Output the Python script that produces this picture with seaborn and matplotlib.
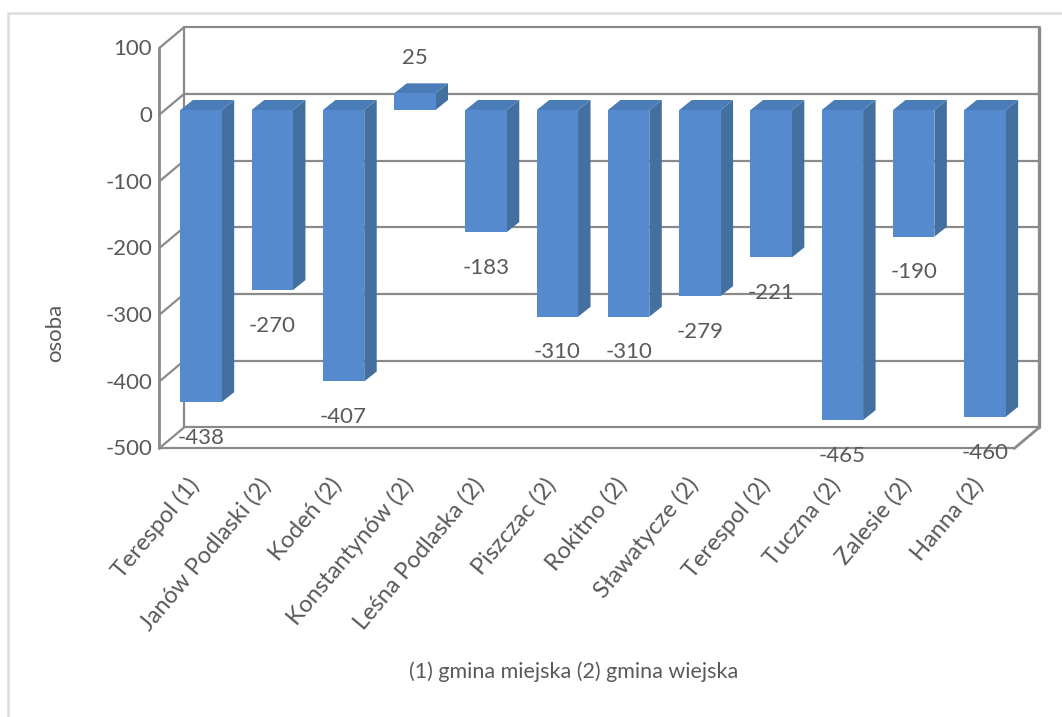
import pandas as pd
import seaborn as sns
import matplotlib.pyplot as plt
from matplotlib.lines import Line2D
from matplotlib.patches import Polygon
from matplotlib.transforms import Affine2D, IdentityTransform

# Values
gminy = ['Terespol (1)', 'Janów Podlaski (2)', 'Kodeń (2)', 'Konstantynów (2)',
         'Leśna Podlaska (2)', 'Piszczac (2)', 'Rokitno (2)', 'Sławatycze (2)',
         'Terespol (2)', 'Tuczna (2)', 'Zalesie (2)', 'Hanna (2)']
zmiana = [-438, -270, -407, 25, -183, -310, -310, -279, -221, -465, -190, -460]
y_ticks = [100, 0, -100, -200, -300, -400, -500]

W, H = 1062, 717
GREY = '#8a8a8a'
TEXT = '#595959'

sns.set_theme(style="white")
plt.rcParams['font.family'] = ['Lato', 'DejaVu Sans']
plt.rcParams['axes.unicode_minus'] = False

df = pd.DataFrame({'gmina': gminy, 'zmiana': zmiana})

fig = plt.figure(figsize=(W / 100, H / 100), dpi=100)
ax = fig.add_axes([165.4 / W, 1 - 443.5 / H, (1020.6 - 165.4) / W, 400.2 / H])
sns.barplot(data=df, x='gmina', y='zmiana', color='#558BCE', saturation=1,
            width=0.58, ax=ax, zorder=3, linewidth=0)
ax.set_xlim(-0.5, len(gminy) - 0.5)
ax.set_ylim(-500, 100)
sns.despine(ax=ax, left=True, bottom=True)
ax.patch.set_visible(False)


# data point -> screen pixels, shifted in depth
def to_px(x, y, dx=0, dy=0):
    px, py = ax.transData.transform((x, y))
    return px + dx, py + dy


def wall_line(p1, p2, lw=1.6):
    ax.add_line(Line2D([p1[0], p2[0]], [p1[1], p2[1]], color=GREY, lw=lw,
                       transform=IdentityTransform(), clip_on=False, zorder=1))


# depth of the front and back planes against the plane of the bars (px)
front = (-6.4, -5)
back = (18.6, 16)
x0, x1 = ax.get_xlim()

# back wall, side wall, floor
for t in y_ticks:
    wall_line(to_px(x0, t, *back), to_px(x1, t, *back))
    wall_line(to_px(x0, t, *front), to_px(x0, t, *back))
wall_line(to_px(x0, -500, *back), to_px(x0, 100, *back))
wall_line(to_px(x1, -500, *back), to_px(x1, 100, *back), lw=2.4)
wall_line(to_px(x0, -500, *front), to_px(x0, 100, *front), lw=2)
wall_line(to_px(x0, -500, *front), to_px(x1, -500, *front))
wall_line(to_px(x1, -500, *front), to_px(x1, -500, *back), lw=2)

# side and top faces of the bars
depth = (12.5, 10)
for bar in ax.containers[0]:
    xl = bar.get_x()
    xr = xl + bar.get_width()
    hi = max(bar.get_y(), bar.get_y() + bar.get_height())
    lo = min(bar.get_y(), bar.get_y() + bar.get_height())
    side = [to_px(xr, hi), to_px(xr, lo), to_px(xr, lo, *depth), to_px(xr, hi, *depth)]
    top = [to_px(xl, hi), to_px(xr, hi), to_px(xr, hi, *depth), to_px(xl, hi, *depth)]
    ax.add_patch(Polygon(side, fc='#44709F', ec='none', transform=IdentityTransform(),
                         clip_on=False, zorder=2.5))
    ax.add_patch(Polygon(top, fc='#4A7DB8', ec='none', transform=IdentityTransform(),
                         clip_on=False, zorder=2.5))

ax.bar_label(ax.containers[0], padding=18.5, fontsize=16, color=TEXT, zorder=5)

ax.set_yticks(y_ticks)
ax.tick_params(axis='y', length=0, pad=9.5, labelsize=16, labelcolor=TEXT)
ax.tick_params(axis='x', length=0, pad=22, labelsize=17, labelcolor=TEXT)
plt.setp(ax.get_xticklabels(), rotation=50, ha='right', rotation_mode='anchor')
for lab in ax.get_xticklabels():
    lab.set_transform(lab.get_transform() + Affine2D().translate(-14, 0))
for lab in ax.get_yticklabels():
    lab.set_transform(lab.get_transform() + Affine2D().translate(0, -4))

ax.set_xlabel('(1) gmina miejska (2) gmina wiejska', fontsize=15.5, color=TEXT)
ax.set_ylabel('osoba', fontsize=16, color=TEXT)
ax.xaxis.set_label_coords((574 - 165.4) / 855.2, (443.5 - 661) / 400.2)
ax.yaxis.set_label_coords((65 - 165.4) / 855.2, (443.5 - 333) / 400.2)

# light border of the chart area
fig.add_artist(Line2D([8 / W, 8 / W, 1], [0, 1 - 13 / H, 1 - 13 / H],
                      color='#dcdcdc', lw=1.8, transform=fig.transFigure))

fig.savefig('out.png', dpi=100)
